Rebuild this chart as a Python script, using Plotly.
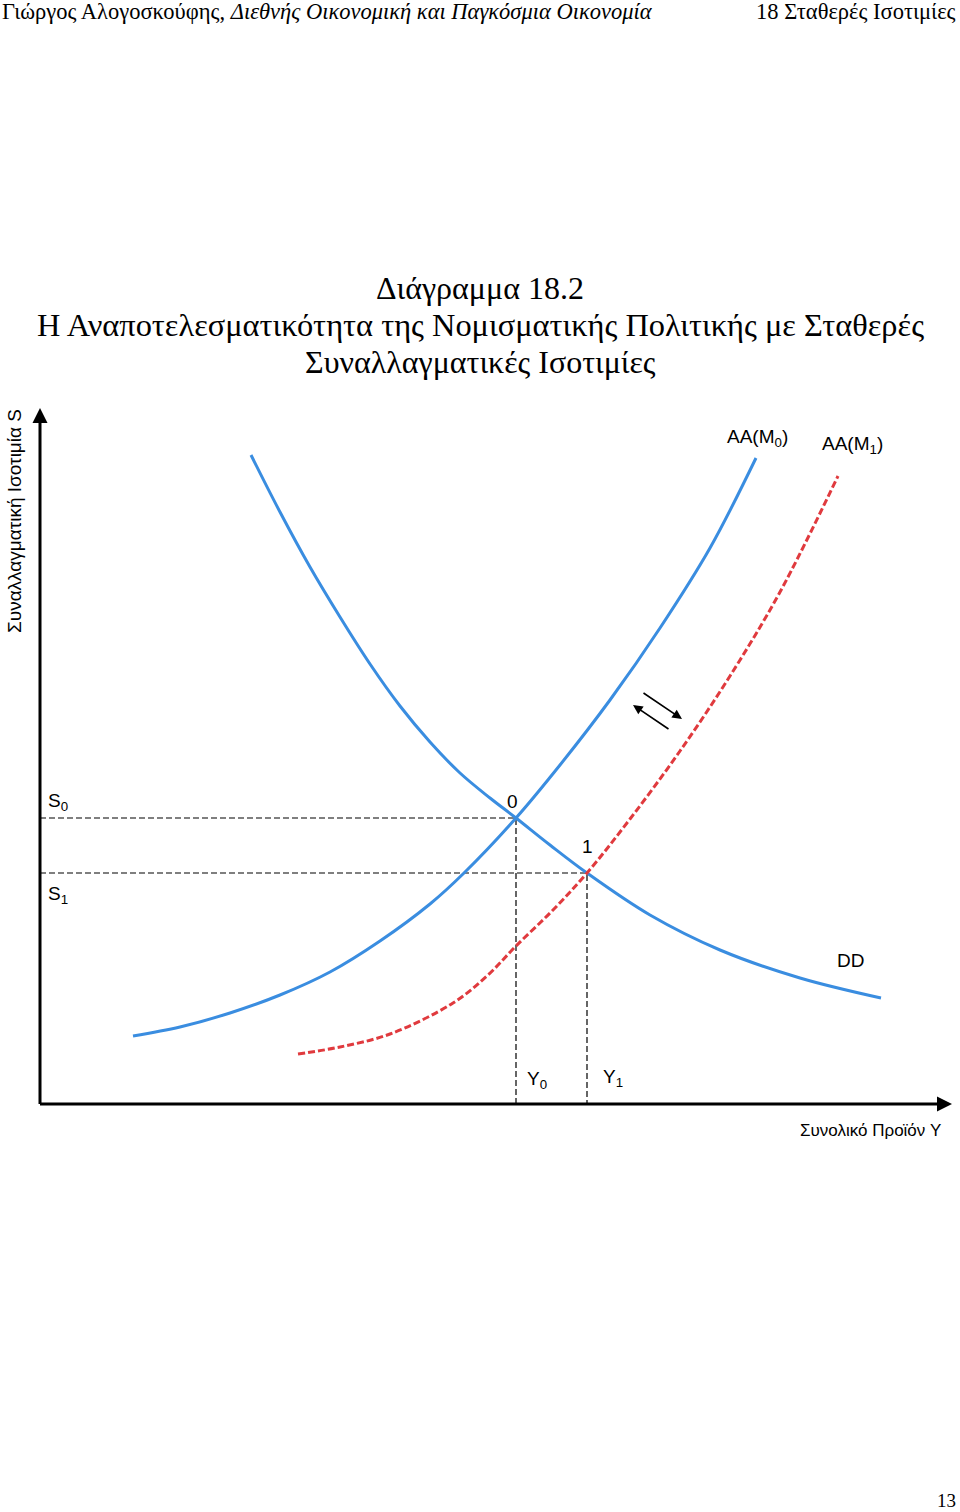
import plotly.graph_objects as go

# chart units: output Y along x, exchange rate S along y (origin at axis corner)
dd_y = [211, 240, 270, 300, 330, 360, 390, 420, 450, 476, 510, 547, 610, 680, 760, 841]
dd_s = [649, 592, 537, 487, 440, 398, 362, 331, 306, 286, 259, 231, 189, 154, 126, 106]

aa0_y = [93, 140, 190, 240, 290, 340, 390, 424, 476, 520, 570, 620, 670, 716]
aa0_s = [68, 77, 91, 109, 132, 163, 200, 231, 286, 339, 404, 476, 556, 646]

aa1_y = [258, 300, 350, 413, 447, 476, 513, 547, 590, 640, 690, 740, 798]
aa1_s = [50, 57, 70, 101, 128, 158, 194, 231, 285, 353, 428, 512, 628]

eq_y = [476, 547]   # Y0, Y1
eq_s = [286, 231]   # S0, S1

BLUE = "#3a8de0"
RED = "#e03a3e"
SANS = "Liberation Sans, Arial, sans-serif"
SERIF = "Liberation Serif, DejaVu Serif, serif"

W, H = 960, 1512

fig = go.Figure()

# dashed guide lines to the axes
for y0, s0 in zip(eq_y, eq_s):
    fig.add_trace(go.Scatter(x=[0, y0, y0], y=[s0, s0, 0], mode="lines",
                             line=dict(color="black", width=1.2, dash="6px,3px"),
                             hoverinfo="skip"))

fig.add_trace(go.Scatter(x=aa0_y, y=aa0_s, mode="lines", line_shape="spline",
                         line=dict(color=BLUE, width=3)))
fig.add_trace(go.Scatter(x=dd_y, y=dd_s, mode="lines", line_shape="spline",
                         line=dict(color=BLUE, width=3)))
fig.add_trace(go.Scatter(x=aa1_y, y=aa1_s, mode="lines", line_shape="spline",
                         line=dict(color=RED, width=3, dash="7px,3px")))

ann = []

def label(x, y, text, size=19, **kw):
    d = dict(x=x, y=y, xref="x", yref="y", text=text, showarrow=False,
             xanchor="center", yanchor="middle",
             font=dict(family=SANS, size=size, color="black"))
    d.update(kw)
    ann.append(d)

def arrow(x0, y0, x1, y1, width=3, head=2, size=1):
    ann.append(dict(x=x1, y=y1, ax=x0, ay=y0, xref="x", yref="y", axref="x", ayref="y",
                    text="", showarrow=True, arrowhead=head, arrowwidth=width,
                    arrowsize=size, arrowcolor="black"))

# axes
arrow(0, -1.5, 0, 696, width=3, head=2, size=1)
arrow(-1.5, 0, 912, 0, width=3, head=2, size=1)

# adjustment arrows
arrow(602, 412, 642, 385, width=1.6, head=2, size=1.2)
arrow(630, 374, 593, 399, width=1.6, head=2, size=1.2)

label(18, eq_s[0] + 16, "S<sub>0</sub>")
label(18, eq_s[1] - 22, "S<sub>1</sub>")
label(eq_y[0] - 4, eq_s[0] + 17, "0")
label(eq_y[1], eq_s[1] + 27, "1")
label(eq_y[0] + 21, 24, "Y<sub>0</sub>")
label(eq_y[1] + 26, 26, "Y<sub>1</sub>")
label(810, 144, "DD")
label(717, 666, "AA(M<sub>0</sub>)")
label(812, 659, "AA(M<sub>1</sub>)")

def page_text(px, py, text, size, family=SERIF, xanchor="center", **kw):
    d = dict(x=px / W, y=1 - py / H, xref="paper", yref="paper", text=text,
             showarrow=False, xanchor=xanchor, yanchor="middle",
             font=dict(family=family, size=size, color="black"))
    d.update(kw)
    ann.append(d)

page_text(0, 11, "Γιώργος Αλογοσκούφης, <i>Διεθνής Οικονομική και Παγκόσμια Οικονομία</i>",
          22.5, xanchor="left")
page_text(958, 11, "18 Σταθερές Ισοτιμίες", 22.5, xanchor="right")
page_text(480, 288, "Διάγραμμα 18.2", 32)
page_text(480, 325, "Η Αναποτελεσματικότητα της Νομισματικής Πολιτικής με Σταθερές", 32.4)
page_text(480, 362, "Συναλλαγματικές Ισοτιμίες", 32)
page_text(15, 521, "Συναλλαγματική Ισοτιμία S", 19, family=SANS, textangle=-90)
page_text(943, 1130, "Συνολικό Προϊόν Y", 17, family=SANS, xanchor="right")
page_text(958, 1500, "13", 19, xanchor="right")

fig.update_layout(
    width=W, height=H,
    margin=dict(l=0, r=0, t=0, b=0),
    paper_bgcolor="white", plot_bgcolor="white",
    showlegend=False,
    xaxis=dict(domain=[40 / W, 1], range=[0, 920], visible=False, fixedrange=True),
    yaxis=dict(domain=[408 / H, 1], range=[0, 1104], visible=False, fixedrange=True),
    annotations=ann,
)

fig.write_html("out.html", config={"displayModeBar": False},
               post_script="document.body.style.margin='0px';")
